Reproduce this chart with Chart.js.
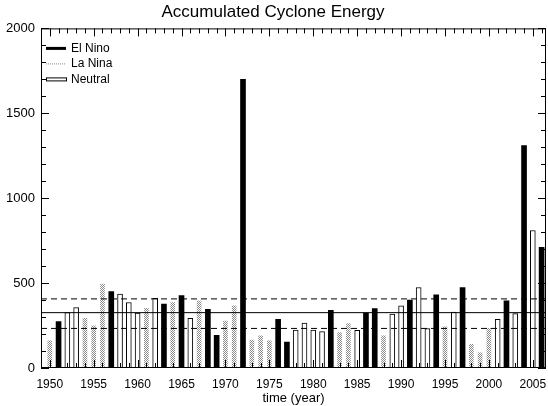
<!DOCTYPE html>
<html><head><meta charset="utf-8">
<script src="https://cdn.jsdelivr.net/npm/chart.js@4.4.0/dist/chart.umd.min.js"></script>
<style>html,body{margin:0;padding:0;background:#fff}#wrap{width:548px;height:406px}</style>
</head><body><div id="wrap"><canvas id="c" width="548" height="406"></canvas></div>
<script>
const years = [1950,1951,1952,1953,1954,1955,1956,1957,1958,1959,1960,1961,1962,1963,1964,1965,1966,1967,1968,1969,1970,1971,1972,1973,1974,1975,1976,1977,1978,1979,1980,1981,1982,1983,1984,1985,1986,1987,1988,1989,1990,1991,1992,1993,1994,1995,1996,1997,1998,1999,2000,2001,2002,2003,2004,2005,2006];
const ace = [160,273,327,356,293,248,494,450,435,386,323,352,411,376,386,427,293,395,346,193,277,366,1700,165,189,160,287,153,224,264,224,214,340,209,262,222,323,350,189,317,366,400,474,232,431,242,330,474,140,90,234,287,395,320,1310,810,710];
const phase = ['L','E','N','N','L','L','L','E','N','N','N','L','N','E','L','E','N','L','E','E','L','L','E','L','L','L','E','E','N','N','N','N','E','L','L','N','E','E','L','N','N','E','N','N','E','L','N','E','L','L','L','N','E','N','E','N','E'];
const meanACE = 326, upperACE = 407, lowerACE = 233;
const xTickLabels = [1950,1955,1960,1965,1970,1975,1980,1985,1990,1995,2000,2005];
const yTickLabels = [0,500,1000,1500,2000];
const legendNames = ['El Nino','La Nina','Neutral'];

const FONT = '"Liberation Sans", Arial, sans-serif';
const ctx0 = document.getElementById('c').getContext('2d');
function dotPattern(){
  const c = document.createElement('canvas'); c.width = 2; c.height = 2;
  const g = c.getContext('2d');
  g.fillStyle = '#fff'; g.fillRect(0,0,2,2);
  g.fillStyle = '#8a8a8a'; g.fillRect(0,0,1,1); g.fillRect(1,1,1,1);
  return ctx0.createPattern(c, 'repeat');
}
function pick(code){
  const out = [];
  years.forEach((yr,i) => { if (phase[i] === code) out.push({x: yr, y: ace[i]}); });
  return out;
}
const xMin = 1949, xMax = 2006.5;
function hline(v){ return [{x: xMin, y: v}, {x: xMax, y: v}]; }

const framePlugin = {
  id: 'frame',
  afterDraw(chart){
    const {ctx, chartArea: a, scales: {x, y}} = chart;
    ctx.save();
    ctx.strokeStyle = '#000'; ctx.lineWidth = 1;
    ctx.strokeRect(a.left + 0.5, a.top + 0.5, a.right - a.left - 1, a.bottom - a.top - 1);
    ctx.beginPath();
    for (let yr = Math.ceil(x.min); yr <= x.max; yr++) {
      const px = Math.round(x.getPixelForValue(yr)) + 0.5;
      const L = yr % 5 === 0 ? 8 : 5;
      ctx.moveTo(px, a.bottom); ctx.lineTo(px, a.bottom - L);
      ctx.moveTo(px, a.top); ctx.lineTo(px, a.top + L);
    }
    for (let v = 0; v <= y.max; v += 100) {
      const py = Math.round(y.getPixelForValue(v)) + 0.5;
      const L = v % 500 === 0 ? 8 : 5;
      ctx.moveTo(a.left, py); ctx.lineTo(a.left + L, py);
      ctx.moveTo(a.right, py); ctx.lineTo(a.right - L, py);
    }
    ctx.stroke();

    // legend, inside the plot area, top-left
    const lx = a.left + 5, tx = a.left + 30;
    const rows = [a.top + 20, a.top + 35, a.top + 51];
    ctx.font = '12px ' + FONT; ctx.fillStyle = '#000'; ctx.textBaseline = 'middle'; ctx.textAlign = 'left';
    ctx.fillRect(lx, rows[0] - 1.5, 20, 3);
    ctx.save(); ctx.strokeStyle = '#8a8a8a'; ctx.setLineDash([1,1]);
    ctx.beginPath(); ctx.moveTo(lx, rows[1] + 0.5); ctx.lineTo(lx + 20, rows[1] + 0.5); ctx.stroke(); ctx.restore();
    ctx.strokeRect(lx + 0.5, rows[2] - 1.5, 20, 3);
    legendNames.forEach((t, i) => ctx.fillText(t, tx, rows[i]));
    ctx.restore();
  }
};

new Chart(ctx0, {
  type: 'bar',
  data: {
    datasets: [
      {label: legendNames[0], data: pick('E'), backgroundColor: '#000', borderWidth: 0, barThickness: 5, grouped: false, order: 2},
      {label: legendNames[1], data: pick('L'), backgroundColor: dotPattern(), borderWidth: 0, barThickness: 4, grouped: false, order: 2},
      {label: legendNames[2], data: pick('N'), backgroundColor: '#fff', borderColor: '#000', borderWidth: 1, borderSkipped: false, barThickness: 5, grouped: false, order: 2},
      {type: 'line', label: 'mean', data: hline(meanACE), borderColor: '#000', borderWidth: 1, pointRadius: 0, order: 0},
      {type: 'line', label: 'upper', data: hline(upperACE), borderColor: '#000', borderWidth: 1, borderDash: [6,4], pointRadius: 0, order: 0},
      {type: 'line', label: 'lower', data: hline(lowerACE), borderColor: '#000', borderWidth: 1, borderDash: [6,4], pointRadius: 0, order: 0}
    ]
  },
  options: {
    responsive: false, animation: false, devicePixelRatio: 1,
    layout: {padding: {left: 0, right: 2, top: 0, bottom: 0}},
    plugins: {
      tooltip: {enabled: false},
      legend: {display: false},
      title: {display: true, text: 'Accumulated Cyclone Energy', color: '#000',
        font: {family: FONT, size: 17, weight: 'normal'}, padding: {top: 2, bottom: 6}}
    },
    scales: {
      x: {
        type: 'linear', position: 'bottom', min: xMin, max: xMax, offset: false,
        afterBuildTicks: s => { s.ticks = xTickLabels.map(v => ({value: v})); },
        afterFit: s => { s.height = 38; s.paddingLeft = 0; s.paddingRight = 0; },
        grid: {display: false, drawTicks: false}, border: {display: false},
        ticks: {color: '#000', font: {family: FONT, size: 12}, padding: 9, maxRotation: 0, autoSkip: false, callback: v => String(v)},
        title: {display: true, text: 'time (year)', color: '#000', font: {family: FONT, size: 13}, padding: {top: 0, bottom: 0}}
      },
      y: {
        min: 0, max: 2000,
        afterBuildTicks: s => { s.ticks = yTickLabels.map(v => ({value: v})); },
        afterFit: s => { s.width = 41; },
        grid: {display: false, drawTicks: false}, border: {display: false},
        ticks: {color: '#000', font: {family: FONT, size: 13}, padding: 6, callback: v => String(v)}
      }
    }
  },
  plugins: [framePlugin]
});
</script></body></html>
